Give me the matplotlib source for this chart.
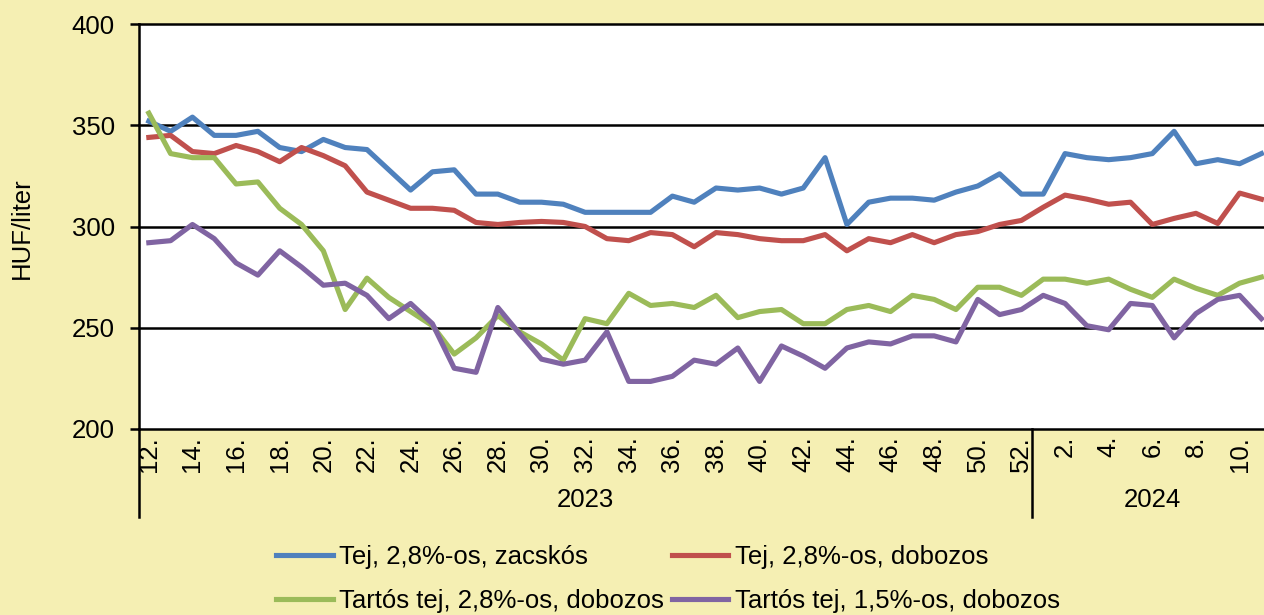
import numpy as np
import matplotlib.pyplot as plt

plt.rcParams['font.family'] = ['Liberation Sans', 'DejaVu Sans']

# hetek: 2023. 12. - 52. hét, 2024. 1. - 11. hét
weeks_2023 = list(range(12, 53))
weeks_2024 = list(range(1, 12))
weeks = weeks_2023 + weeks_2024

# átlagárak, HUF/liter (leolvasva)
tej_zacskos = [352, 347, 354, 345, 345, 347, 339, 337, 343, 339, 338, 328, 318, 327,
               328, 316, 316, 312, 312, 311, 307, 307, 307, 307, 315, 312, 319, 318,
               319, 316, 319, 334, 301, 312, 314, 314, 313, 317, 320, 326, 316, 316,
               336, 334, 333, 334, 336, 347, 331, 333, 331, 336]
tej_dobozos = [344, 345, 337, 336, 340, 337, 332, 339, 335, 330, 317, 313, 309, 309,
               308, 302, 301, 302, 302.5, 302, 300, 294, 293, 297, 296, 290, 297, 296,
               294, 293, 293, 296, 288, 294, 292, 296, 292, 296, 297.5, 301, 303, 309.5,
               315.5, 313.5, 311, 312, 301, 304, 306.5, 301.5, 316.5, 313.5]
tartos_28 = [356, 336, 334, 334, 321, 322, 309, 301, 288, 259, 274.5, 265, 258, 251,
             237, 245, 256, 248, 242, 234, 254.5, 252, 267, 261, 262, 260, 266, 255,
             258, 259, 252, 252, 259, 261, 258, 266, 264, 259, 270, 270, 266, 274,
             274, 272, 274, 269, 265, 274, 269.5, 266, 272, 275]
tartos_15 = [292, 293, 301, 294, 282, 276, 288, 280, 271, 272, 266, 254.5, 262, 252,
             230, 228, 260, 247, 234.5, 232, 234, 248, 223.5, 223.5, 226, 234, 232, 240,
             223.5, 241, 236, 230, 240, 243, 242, 246, 246, 243, 264, 256.5, 259, 266,
             262, 251, 249, 262, 261, 245, 257, 264, 266, 254.5]

labels = ['Tej, 2,8%-os, zacskós', 'Tej, 2,8%-os, dobozos',
          'Tartós tej, 2,8%-os, dobozos', 'Tartós tej, 1,5%-os, dobozos']
colors = ['#4F81BD', '#C0504D', '#9BBB59', '#8064A2']
bg = '#F5EFB3'
fs = 18.5

x = np.arange(len(weeks))
n23 = len(weeks_2023)

fig = plt.figure(figsize=(12.64, 6.15), dpi=100, facecolor=bg)
ax = fig.add_axes([139 / 1264, 1 - 429 / 615, 1 - 139 / 1264, 405 / 615])
ax.set_facecolor('white')

for v in [250, 300, 350, 400]:
    ax.axhline(v, color='black', lw=1.8, clip_on=False, zorder=1)

lines = []
for ser, c in zip([tej_zacskos, tej_dobozos, tartos_28, tartos_15], colors):
    ln, = ax.plot(x, ser, color=c, lw=3.7, zorder=3)
    lines.append(ln)

ax.set_xlim(-0.45, 51.12)
ax.set_ylim(200, 400)
ax.set_yticks([200, 250, 300, 350, 400])
ax.tick_params(axis='y', length=6.5, width=1.8, pad=11, labelsize=fs, colors='black')

tick_pos = [i for i, w in enumerate(weeks) if w % 2 == 0]
ax.set_xticks(tick_pos)
ax.set_xticklabels([f'{weeks[i]}.' for i in tick_pos], rotation=90, fontsize=fs)
ax.tick_params(axis='x', length=0, pad=5)

for s in ['top', 'right']:
    ax.spines[s].set_visible(False)
for s in ['left', 'bottom']:
    ax.spines[s].set_linewidth(1.8)
    ax.spines[s].set_color('black')

# év szerinti csoportosítás az x tengely alatt
tr = ax.get_xaxis_transform()
for xs in [-0.45, n23 - 0.5]:
    ax.plot([xs, xs], [0, -0.217], transform=tr, color='black', lw=1.8, clip_on=False)
ax.text((n23 - 1) / 2, -0.175, '2023', transform=tr, ha='center', va='center', fontsize=fs)
ax.text(n23 + 5, -0.175, '2024', transform=tr, ha='center', va='center', fontsize=fs)

fig.text(22 / 1264, 1 - 228 / 615, 'HUF/liter', rotation=90, ha='center', va='center',
         fontsize=fs)

order = [0, 2, 1, 3]
fig.legend([lines[i] for i in order], [labels[i] for i in order], ncol=2, loc='center',
           bbox_to_anchor=(668 / 1264, 1 - 579 / 615), frameon=False, fontsize=fs,
           handlelength=2.2, handletextpad=0.25, columnspacing=0.3, labelspacing=0.8)

fig.savefig('out.png', dpi=100, facecolor=bg)
